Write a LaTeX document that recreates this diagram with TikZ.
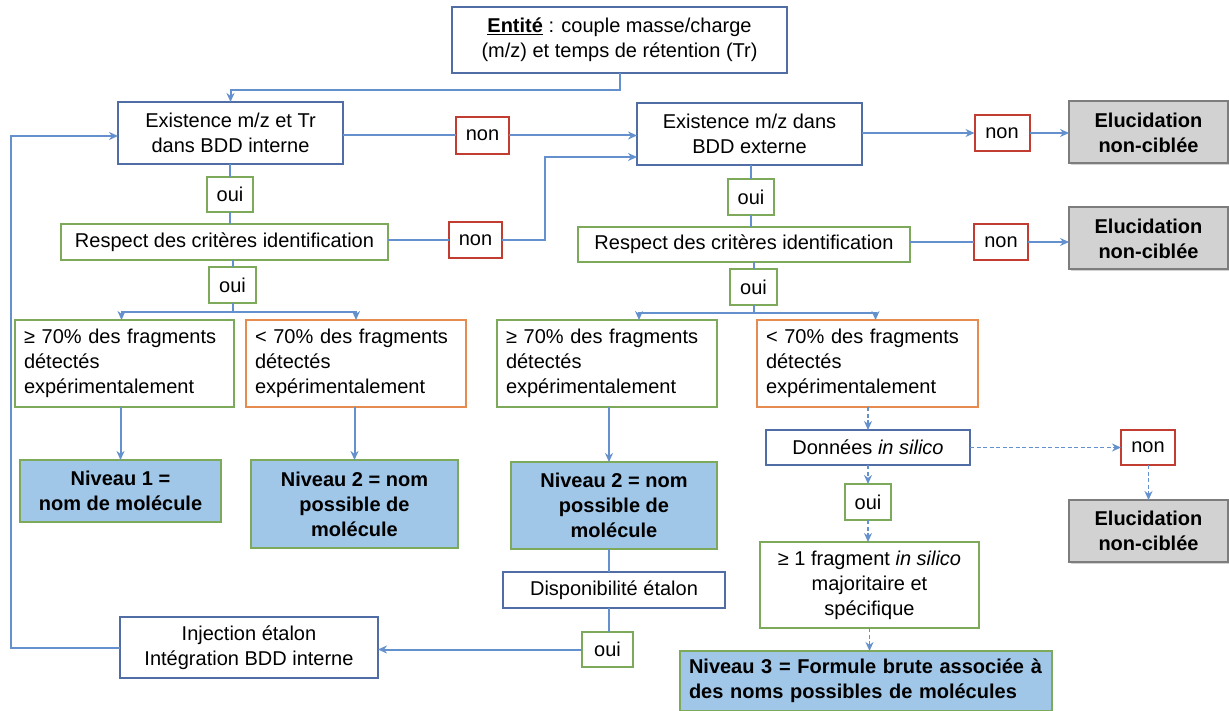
\documentclass[tikz,border=0pt]{standalone}
\usepackage{fontspec}
\setmainfont{Liberation Sans}
\usetikzlibrary{arrows.meta,shadows}
\definecolor{lineblue}{RGB}{100,145,205}
\definecolor{boxblue}{RGB}{80,110,165}
\definecolor{boxgreen}{RGB}{125,170,90}
\definecolor{boxred}{RGB}{195,60,50}
\definecolor{boxorange}{RGB}{230,140,80}
\definecolor{fillblue}{RGB}{160,198,232}
\definecolor{fillgrey}{RGB}{210,210,210}
\definecolor{bordergrey}{RGB}{125,125,125}
\begin{document}
\begin{tikzpicture}[x=1pt,y=-1pt,
  every node/.style={font=\fontsize{20}{25}\selectfont, inner sep=0pt, outer sep=0pt},
  sz/.style 2 args={minimum width=#1pt, minimum height=#2pt},
  bbox/.style={draw=boxblue, line width=2pt, fill=white, align=center},
  gbox/.style={draw=boxgreen, line width=2pt, fill=white, align=center},
  rbox/.style={draw=boxred, line width=2pt, fill=white, align=center},
  obox/.style={draw=boxorange, line width=2pt, fill=white, align=center},
  lft/.style={align=left, inner xsep=9pt, text width=#1pt},
  lvl/.style={draw=boxgreen, line width=2pt, fill=fillblue, align=center, font=\fontsize{20}{25}\selectfont\bfseries},
  elu/.style={draw=bordergrey, line width=2pt, fill=fillgrey, align=center, font=\fontsize{20}{25}\selectfont\bfseries,
    drop shadow={shadow xshift=2pt, shadow yshift=-2pt, fill=black!35}},
  ln/.style={draw=lineblue, line width=2pt},
  arr/.style={ln, -{Stealth[length=9pt,width=8pt]}},
  dsh/.style={draw=lineblue, line width=1.6pt, dash pattern=on 4pt off 2.5pt, -{Stealth[length=9pt,width=8pt]}}
]
\useasboundingbox (0,0) rectangle (1229,711);
\fill[white] (0,0) rectangle (1229,711);

% nodes
\node[bbox, sz={335}{66}] (ent) at (619.5,40) {\underline{\textbf{Entité}} : couple masse/charge\\(m/z) et temps de rétention (Tr)};
\node[bbox, sz={225}{62}] (ex1) at (230.5,133) {Existence m/z et Tr\\dans BDD interne};
\node[rbox, sz={53}{37}] (non1) at (482.5,135.5) {non};
\node[bbox, sz={225}{62}] (ex2) at (749.5,134) {Existence m/z dans\\BDD externe};
\node[rbox, sz={55}{36}] (non3) at (1002,133) {non};
\node[elu, sz={159}{62}] (elu1) at (1148.5,132.5) {Elucidation\\non-ciblée};

\node[gbox, sz={46}{35}] (oui1) at (230,194.5) {oui};
\node[gbox, sz={327}{36}] (resp1) at (224.5,242) {Respect des critères identification};
\node[rbox, sz={53}{36}] (non2) at (475.5,240) {non};
\node[gbox, sz={46}{36}] (oui3) at (751,197) {oui};
\node[gbox, sz={332}{35}] (resp2) at (744,244.5) {Respect des critères identification};
\node[rbox, sz={54}{36}] (non4) at (1001,242) {non};
\node[elu, sz={159}{62}] (elu2) at (1148.5,238.5) {Elucidation\\non-ciblée};

\node[gbox, sz={47}{36}] (oui2) at (232.5,285) {oui};
\node[gbox, sz={47}{36}] (oui4) at (753.5,287) {oui};

\node[gbox, lft=201, minimum height=87pt] (A) at (124.5,363.5) {≥ 70\% des fragments\\détectés\\expérimentalement};
\node[obox, lft=202, minimum height=87pt] (B) at (356,363.5) {< 70\% des fragments\\détectés\\expérimentalement};
\node[gbox, lft=202, minimum height=87pt] (C) at (607,363.5) {≥ 70\% des fragments\\détectés\\expérimentalement};
\node[obox, lft=203, minimum height=87pt] (D) at (867.5,363.5) {< 70\% des fragments\\détectés\\expérimentalement};

\node[lvl, sz={201}{62}] (niv1) at (120.5,491) {Niveau 1 =\\nom de molécule};
\node[lvl, sz={207}{88}] (niv2a) at (354.5,504) {Niveau 2 = nom\\possible de\\molécule};
\node[lvl, sz={206}{87}] (niv2b) at (614,505.5) {Niveau 2 = nom\\possible de\\molécule};

\node[bbox, sz={222}{36}] (dispo) at (614,590) {Disponibilité étalon};
\node[gbox, sz={51}{35}] (oui5) at (607.5,649.5) {oui};
\node[bbox, sz={258}{61}] (inj) at (249,647.5) {Injection étalon\\Intégration BDD interne};

\node[bbox, sz={204}{35}] (don) at (868,447.5) {Données \textit{in silico}};
\node[rbox, sz={54}{35}] (non5) at (1148,447.5) {non};
\node[elu, sz={159}{62}] (elu3) at (1148.5,531) {Elucidation\\non-ciblée};
\node[gbox, sz={46}{36}] (oui6) at (868,502) {oui};
\node[gbox, sz={219}{86}] (E) at (869.5,585) {≥ 1 fragment \textit{in silico}\\majoritaire et\\spécifique};
\node[lvl, lft=354, minimum height=60pt] (niv3) at (866,681) {Niveau 3 = Formule brute associée à\\des noms possibles de molécules};

% connectors
\coordinate (c1) at (230.5,90);
\draw[arr] (ent.south) |- (c1) -- (ex1.north);
\draw[ln] (ex1.east |- non1.west) -- (non1.west);
\draw[arr] (non1.east) -- (non1.east -| ex2.west);
\draw[ln] (oui1.north |- ex1.south) -- (oui1.north);
\draw[ln] (oui1.south) -- (oui1.south |- resp1.north);
\draw[ln] (resp1.east |- non2.west) -- (non2.west);
\coordinate (c2) at (545,157);
\draw[arr] (non2.east) -| (c2) -- (c2 -| ex2.west);
\draw[ln] (oui2.north |- resp1.south) -- (oui2.north);
\coordinate (s1) at (232.5,312);
\draw[ln] (oui2.south) -- (s1);
\draw[arr] (s1) -| ([xshift=-3pt]A.north);
\draw[arr] (s1) -| (B.north);

\draw[arr] (ex2.east |- non3.west) -- (non3.west);
\draw[arr] (non3.east) -- (non3.east -| elu1.west);
\draw[ln] (oui3.north |- ex2.south) -- (oui3.north);
\draw[ln] (oui3.south) -- (oui3.south |- resp2.north);
\draw[ln] (resp2.east |- non4.west) -- (non4.west);
\draw[arr] (non4.east) -- (non4.east -| elu2.west);
\draw[ln] (oui4.north |- resp2.south) -- (oui4.north);
\coordinate (s2) at (753.5,313);
\draw[ln] (oui4.south) -- (s2);
\draw[arr] (s2) -| ([xshift=32pt]C.north);
\draw[arr] (s2) -| ([xshift=8pt]D.north);

\draw[arr] (niv1.north |- A.south) -- (niv1.north);
\draw[arr] (B.south -| niv2a.north) -- (niv2a.north);
\coordinate (v1) at (609,0);
\draw[arr] (C.south -| v1) -- (niv2b.north -| v1);
\draw[ln] (niv2b.south -| v1) -- (dispo.north -| v1);
\draw[ln] (dispo.south -| v1) -- (oui5.north -| v1);
\draw[arr] (oui5.west) -- (oui5.west -| inj.east);
\coordinate (c4) at (11,136);
\draw[arr] (inj.west) -| (c4) -- (c4 -| ex1.west);

\draw[dsh] (D.south -| don.north) -- (don.north);
\draw[dsh] (don.east) -- (non5.west);
\draw[dsh] (non5.south -| elu3.north) -- (elu3.north);
\draw[dsh] (don.south) -- (oui6.north);
\draw[dsh] (oui6.south) -- (oui6.south |- E.north);
\draw[dsh] (E.south) -- (E.south |- niv3.north);
\end{tikzpicture}
\end{document}
